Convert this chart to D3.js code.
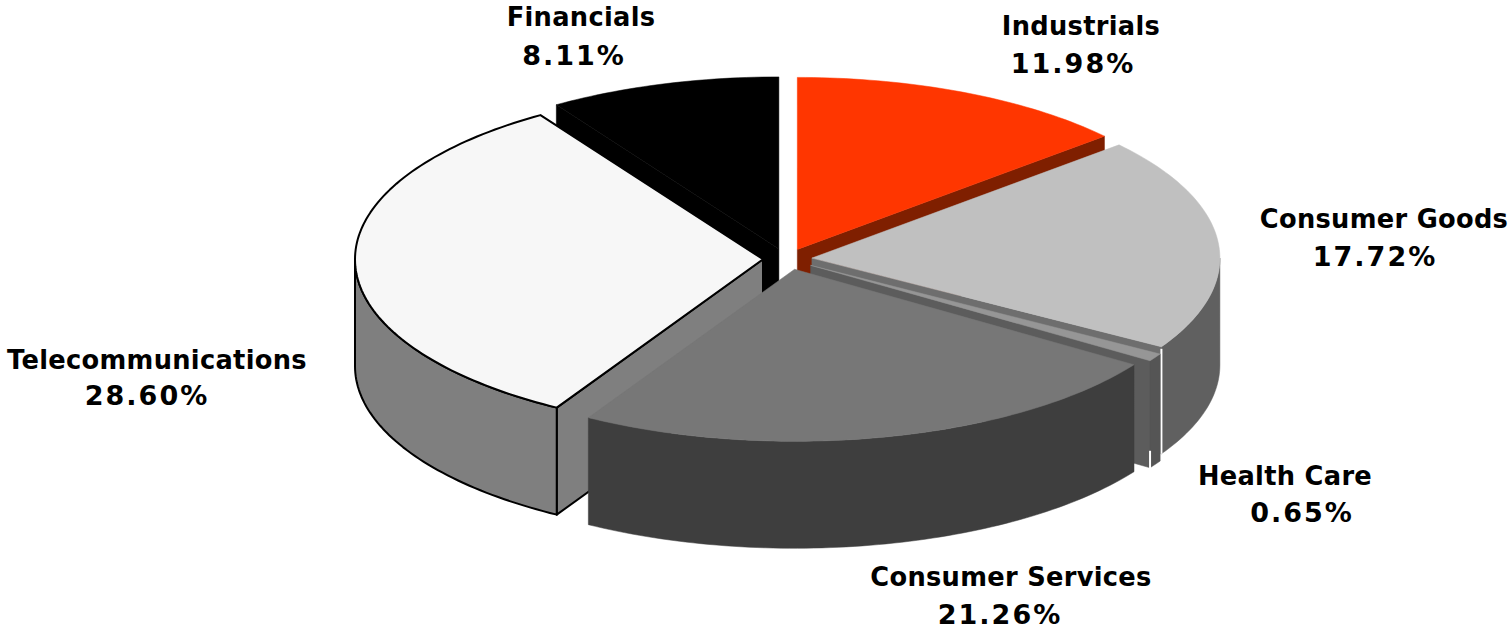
<!DOCTYPE html>
<html lang="en">
<head>
    <meta charset="utf-8">
    <title>Sector weights</title>
    <script src="https://d3js.org/d3.v7.min.js" charset="utf-8"></script>
    <style>
        html, body { margin: 0; padding: 0; background: #fff; overflow: hidden; }
        svg { display: block; }
        text { font-family: "DejaVu Sans", sans-serif; font-weight: 700; fill: #000; text-anchor: middle; }
        .name { font-size: 25.7px; letter-spacing: 0.3px; }
        .value { font-size: 27px; letter-spacing: 2px; }
    </style>
</head>
<body>
    <script>
    var sectors = ["Industrials", "Consumer Goods", "Health Care", "Consumer Services", "Telecommunications", "Financials"]
    var weights = [11.98, 17.72, 0.65, 21.26, 28.60, 8.11]

    var topColors = ["#ff3600", "#c0c0c0", "#969696", "#777777", "#f7f7f7", "#000000"]
    var rimColors = ["#7f1f00", "#606060", "#555555", "#3e3e3e", "#7f7f7f", "#000000"]
    var cutColors = ["#7f1f00", "#6e6e6e", "#5c5c5c", "#3e3e3e", "#7f7f7f", "#000000"]
    var explode = [25, 25, 28, 25, 25, 25]
    var nudgeX = [-1, -1, -1, 1, 0, -2]
    var drawOrder = [5, 0, 4, 1, 2, 3]

    // name line / value line centre and baselines
    var labelX = [[1081, 1073], [1384, 1375], [1285, 1302], [1011, 1000], [157, 147], [581, 574]]
    var labelY = [[35, 73], [228, 266], [485, 522], [586, 624], [369, 405], [26, 65]]

    var w = 1509, h = 629
    var cx = 788, cy = 259, rx = 408, ry = 172, depth = 107

    var svg = d3.select("body").append("svg").attr("width", w).attr("height", h)

    var xScale = d3.scaleLinear().domain([-1, 1]).range([-rx, rx])
    var yScale = d3.scaleLinear().domain([-1, 1]).range([ry, -ry])

    var arcs = d3.pie().sort(null).value(function (d) { return d })(weights)
    var line = d3.line()

    function apex(d, i) {
        var mid = (d.startAngle + d.endAngle) / 2
        var k = explode[i] / rx
        return [cx + nudgeX[i] + xScale(k * Math.sin(mid)), cy + yScale(k * Math.cos(mid))]
    }

    function rimPoint(o, a) {
        return [o[0] + xScale(Math.sin(a)), o[1] + yScale(Math.cos(a))]
    }

    function sweep(o, a0, a1) {
        var n = Math.max(2, Math.ceil((a1 - a0) / 0.02))
        return d3.range(n + 1).map(function (j) { return rimPoint(o, a0 + (a1 - a0) * j / n) })
    }

    function drop(p) { return [p[0], p[1] + depth] }

    function poly(points, fill, stroke, width) {
        svg.append("path").attr("d", line(points) + "Z").attr("fill", fill)
            .attr("stroke", stroke || fill).attr("stroke-width", width || 0.5).attr("stroke-linejoin", "round")
    }

    function split(p, q) {
        svg.append("path").attr("d", line([p, q])).attr("stroke", "#fff").attr("stroke-width", 2).attr("fill", "none")
    }

    drawOrder.forEach(function (i) {
        var d = arcs[i]
        var o = apex(d, i)
        var outlined = sectors[i] == "Telecommunications"
        var edge = outlined ? "#000" : null
        var edgeW = outlined ? 2 : 0.5

        // cut face at the start of the slice (left half only)
        if (Math.sin(d.startAngle) < 0) {
            var s = rimPoint(o, d.startAngle)
            poly([o, s, drop(s), drop(o)], cutColors[i], edge, edgeW)
        }
        // cut face at the end of the slice (right half only)
        if (Math.sin(d.endAngle) > 0) {
            var e = rimPoint(o, d.endAngle)
            poly([o, e, drop(e), drop(o)], cutColors[i], edge, edgeW)
        }
        // outer wall, front half of the ellipse
        var a0 = Math.max(d.startAngle, Math.PI / 2)
        var a1 = Math.min(d.endAngle, Math.PI * 1.5)
        if (a1 > a0) {
            var rim = sweep(o, a0, a1)
            poly(rim.concat(rim.slice().reverse().map(drop)), rimColors[i], edge, edgeW)
        }
        // top face
        poly([o].concat(sweep(o, d.startAngle, d.endAngle)), topColors[i], edge, edgeW)

        // thin white splits next to the outer corners of the cut faces
        var c = rimPoint(o, d.endAngle)
        if (sectors[i] == "Consumer Goods") split([c[0], c[1] + 2], drop(c))
        if (sectors[i] == "Health Care") split([c[0], c[1] + depth - 17], [c[0], c[1] + depth + 1])
    })

    arcs.forEach(function (d, i) {
        svg.append("text").attr("class", "name").attr("x", labelX[i][0]).attr("y", labelY[i][0]).text(sectors[i])
        svg.append("text").attr("class", "value").attr("x", labelX[i][1]).attr("y", labelY[i][1]).text(weights[i].toFixed(2) + "%")
    })
    </script>
</body>
</html>
